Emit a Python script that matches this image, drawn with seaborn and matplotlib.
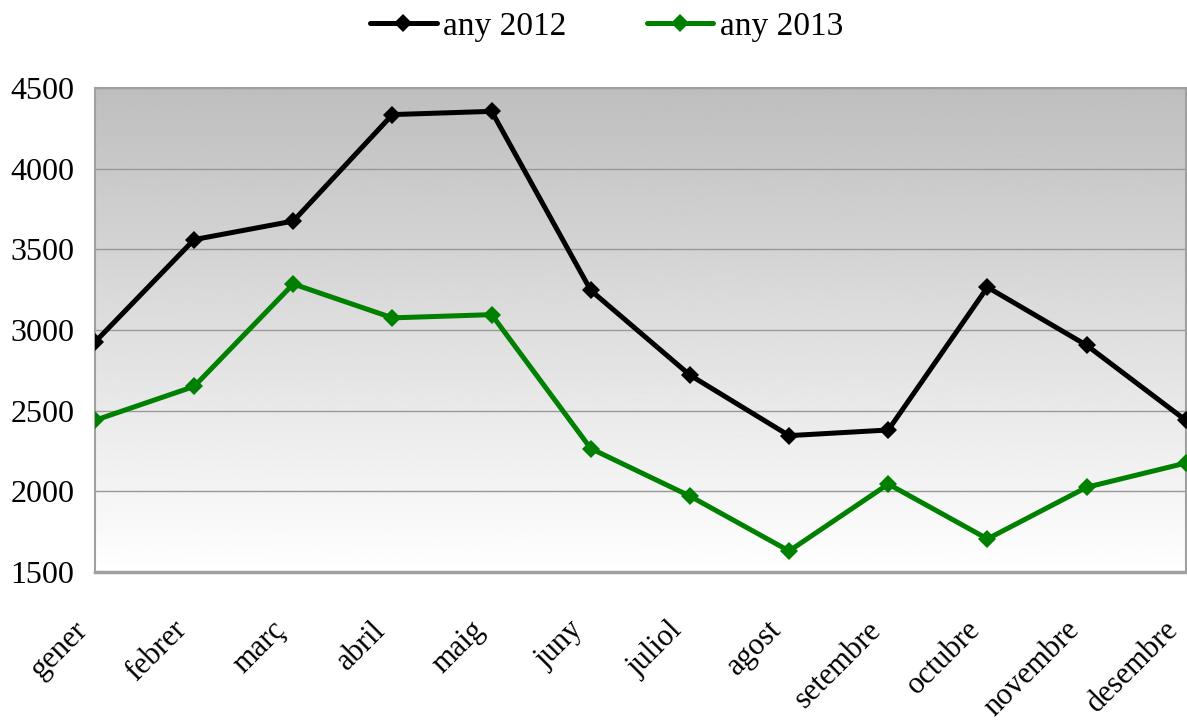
import numpy as np
import pandas as pd
import matplotlib.pyplot as plt
import seaborn as sns
from matplotlib.transforms import ScaledTranslation

sns.set_theme(style="white")
plt.rcParams['font.family'] = ['Liberation Serif', 'DejaVu Serif']
plt.rcParams['text.color'] = 'black'
plt.rcParams['xtick.color'] = 'black'
plt.rcParams['ytick.color'] = 'black'

mesos = ["gener", "febrer", "març", "abril", "maig", "juny", "juliol",
         "agost", "setembre", "octubre", "novembre", "desembre"]
any_2012 = [2925, 3560, 3675, 4335, 4355, 3245, 2720, 2345, 2380, 3265, 2905, 2440]
any_2013 = [2440, 2650, 3285, 3075, 3095, 2265, 1970, 1630, 2045, 1705, 2025, 2175]

df = pd.DataFrame({
    "mes": mesos * 2,
    "valor": any_2012 + any_2013,
    "serie": ["any 2012"] * 12 + ["any 2013"] * 12,
})

fig = plt.figure(figsize=(11.87, 7.24), dpi=100)
ax = fig.add_axes([0.080, 0.210, 0.919, 0.6685])

# fons degradat gris -> blanc
grad = np.linspace(0.745, 1.0, 256).reshape(-1, 1)
ax.imshow(grad, extent=[0, 1, 0, 1], transform=ax.transAxes, aspect="auto",
          cmap="gray", vmin=0, vmax=1, origin="upper", zorder=0)

sns.lineplot(data=df, x="mes", y="valor", hue="serie", style="serie",
             palette={"any 2012": "black", "any 2013": "#008000"},
             markers={"any 2012": "D", "any 2013": "D"}, dashes=False,
             linewidth=3.6, markersize=9, markeredgewidth=0, ax=ax, zorder=3)

ax.set_xlim(0, 11)
ax.set_ylim(1500, 4500)
ax.set_yticks([1500, 2000, 2500, 3000, 3500, 4000, 4500])
ax.yaxis.grid(True, color="#999999", linewidth=1)
for l in ax.get_ygridlines():
    l.set_zorder(1)
for s in ax.spines.values():
    s.set_color("#a0a0a0")
    s.set_linewidth(1.5)
ax.spines["bottom"].set_linewidth(2.5)
ax.set_xlabel("")
ax.set_ylabel("")
ax.tick_params(axis="y", labelsize=23, length=0, pad=15)
ax.tick_params(axis="x", labelsize=22, length=0, pad=14)
off = ScaledTranslation(-0.22, -0.24, fig.dpi_scale_trans)
for t in ax.get_xticklabels():
    t.set_rotation(45)
    t.set_ha("right")
    t.set_rotation_mode("anchor")
    t.set_transform(t.get_transform() + off)

h, lab = ax.get_legend_handles_labels()
ax.get_legend().remove()
fig.legend(h, lab, loc="center", bbox_to_anchor=(0.511, 0.963),
           ncol=2, frameon=False, fontsize=24, handlelength=2.0,
           handletextpad=0.2, columnspacing=2.4)

plt.savefig("out.png", dpi=100)
